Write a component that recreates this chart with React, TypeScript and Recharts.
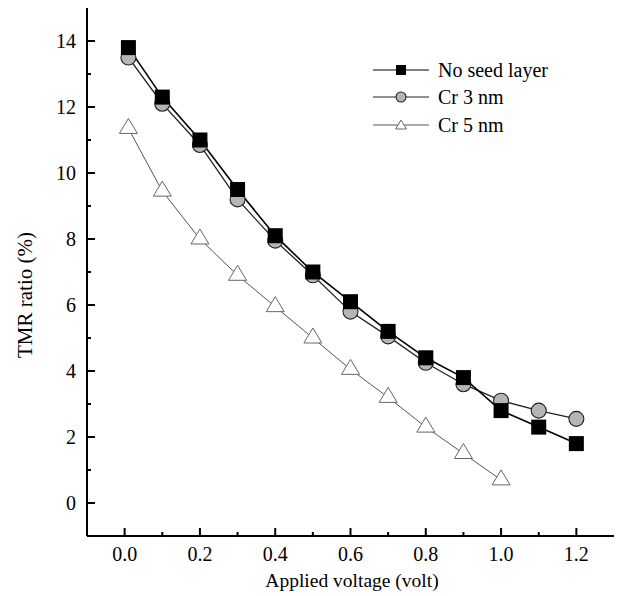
import { LineChart, Line, XAxis, YAxis } from "recharts";

// applied voltage (volt)
const voltage = [0.01, 0.1, 0.2, 0.3, 0.4, 0.5, 0.6, 0.7, 0.8, 0.9, 1.0, 1.1, 1.2];

// TMR ratio (%)
const noSeed = [13.8, 12.3, 11.0, 9.5, 8.1, 7.0, 6.1, 5.2, 4.4, 3.8, 2.8, 2.3, 1.8];
const cr3 = [13.5, 12.1, 10.85, 9.2, 7.95, 6.9, 5.8, 5.05, 4.25, 3.6, 3.1, 2.8, 2.55];
const cr5 = [11.35, 9.45, 8.0, 6.9, 5.95, 5.0, 4.05, 3.2, 2.3, 1.5, 0.7];

const xTicks = [0, 0.1, 0.2, 0.3, 0.4, 0.5, 0.6, 0.7, 0.8, 0.9, 1.0, 1.1, 1.2];
const yTicks = [0, 1, 2, 3, 4, 5, 6, 7, 8, 9, 10, 11, 12, 13, 14];

const seriesNames = ["No seed layer", "Cr 3 nm", "Cr 5 nm"];

const toRows = (vals: number[]) => vals.map((v, i) => ({ x: voltage[i], y: v }));

const FONT = "'Liberation Serif', 'Times New Roman', serif";
const TICK_GAP = 11;

const Square = ({ cx, cy, size = 15 }: any) => (
  <rect x={cx - size / 2} y={cy - size / 2} width={size} height={size} fill="#000" />
);
const Circle = ({ cx, cy, r = 7.5 }: any) => (
  <circle cx={cx} cy={cy} r={r} fill="#b5b5b5" stroke="#222" strokeWidth={1.1} />
);
const Triangle = ({ cx, cy, s = 1 }: any) => (
  <polygon
    points={`${cx},${cy - 10 * s} ${cx - 9 * s},${cy + 5 * s} ${cx + 9 * s},${cy + 5 * s}`}
    fill="#fff"
    stroke="#666"
    strokeWidth={1}
  />
);

const dot = (Shape: any) => (p: any) =>
  p.cy == null ? <g key={p.index} /> : <Shape key={p.index} cx={p.cx} cy={p.cy} />;

const YTick = (props: any) => {
  const x = Number(props.x);
  const y = Number(props.y);
  const v = props.payload.value;
  const ax = x + TICK_GAP;
  const major = v % 2 === 0;
  return (
    <g>
      <line x1={ax} x2={ax + (major ? 8 : 4)} y1={y} y2={y} stroke="#000" strokeWidth={2} />
      {major && (
        <text x={x} y={y} dy="0.35em" textAnchor="end" fontSize={20} fontFamily={FONT} fill="#000">
          {v}
        </text>
      )}
    </g>
  );
};

const XTick = (props: any) => {
  const x = Number(props.x);
  const y = Number(props.y);
  const v = props.payload.value;
  const ay = y - TICK_GAP;
  const major = Math.round(v * 10) % 2 === 0;
  return (
    <g>
      <line x1={x} x2={x} y1={ay} y2={ay - (major ? 8 : 4)} stroke="#000" strokeWidth={2} />
      {major && (
        <text x={x} y={y} dy="0.72em" textAnchor="middle" fontSize={20} fontFamily={FONT} fill="#000">
          {v.toFixed(1)}
        </text>
      )}
    </g>
  );
};

const LegendBox = () => {
  const markers = [
    <Square cx={28} cy={10} size={10} />,
    <Circle cx={28} cy={10} r={5} />,
    <Triangle cx={28} cy={11} s={0.6} />,
  ];
  const strokes = ["#000", "#222", "#555"];
  return (
    <div
      style={{
        position: "absolute",
        left: 373,
        top: 56,
        fontFamily: FONT,
        fontSize: 20,
        color: "#000",
        lineHeight: 1,
      }}
    >
      {seriesNames.map((n, i) => (
        <div key={n} style={{ display: "flex", alignItems: "center", height: 27.5 }}>
          <svg width={56} height={20} style={{ marginRight: 9 }}>
            <line x1={0} x2={56} y1={10} y2={10} stroke={strokes[i]} strokeWidth={1} />
            {markers[i]}
          </svg>
          <span>{n}</span>
        </div>
      ))}
    </div>
  );
};

export default function App() {
  return (
    <div style={{ position: "absolute", left: 0, top: 0, width: 620, height: 596, background: "#fff" }}>
      <LineChart width={620} height={596} margin={{ top: 8, right: 6, left: 0, bottom: 0 }}>
        <XAxis
          xAxisId="b"
          type="number"
          dataKey="x"
          domain={[-0.1, 1.3]}
          ticks={xTicks}
          interval={0}
          height={60}
          tickLine={false}
          tickSize={0}
          tickMargin={TICK_GAP}
          tick={<XTick />}
          axisLine={{ stroke: "#000", strokeWidth: 2 }}
          allowDataOverflow
          label={{
            content: () => (
              <text x={352} y={587} textAnchor="middle" fontSize={19.5} fontFamily={FONT} fill="#000">
                Applied voltage (volt)
              </text>
            ),
          }}
        />
        <XAxis
          xAxisId="t"
          orientation="top"
          type="number"
          dataKey="x"
          domain={[-0.1, 1.3]}
          height={0}
          tick={false}
          tickLine={false}
          axisLine={{ stroke: "#000", strokeWidth: 2 }}
        />
        <YAxis
          yAxisId="l"
          type="number"
          domain={[-1, 15]}
          ticks={yTicks}
          interval={0}
          width={87}
          tickLine={false}
          tickSize={0}
          tickMargin={TICK_GAP}
          tick={<YTick />}
          axisLine={{ stroke: "#000", strokeWidth: 2 }}
          allowDataOverflow
          label={{
            content: () => (
              <text
                x={0}
                y={0}
                transform="translate(32 295) rotate(-90)"
                textAnchor="middle"
                fontSize={21}
                fontFamily={FONT}
                fill="#000"
              >
                TMR ratio (%)
              </text>
            ),
          }}
        />
        <YAxis
          yAxisId="r"
          orientation="right"
          type="number"
          domain={[-1, 15]}
          width={0}
          tick={false}
          tickLine={false}
          axisLine={{ stroke: "#000", strokeWidth: 2 }}
        />
        <Line
          xAxisId="b"
          yAxisId="l"
          name={seriesNames[2]}
          data={toRows(cr5)}
          dataKey="y"
          stroke="#555"
          strokeWidth={1}
          dot={dot(Triangle)}
          isAnimationActive={false}
        />
        <Line
          xAxisId="b"
          yAxisId="l"
          name={seriesNames[1]}
          data={toRows(cr3)}
          dataKey="y"
          stroke="#222"
          strokeWidth={1.3}
          dot={dot(Circle)}
          isAnimationActive={false}
        />
        <Line
          xAxisId="b"
          yAxisId="l"
          name={seriesNames[0]}
          data={toRows(noSeed)}
          dataKey="y"
          stroke="#000"
          strokeWidth={1.6}
          dot={dot(Square)}
          isAnimationActive={false}
        />
      </LineChart>
      <LegendBox />
    </div>
  );
}
